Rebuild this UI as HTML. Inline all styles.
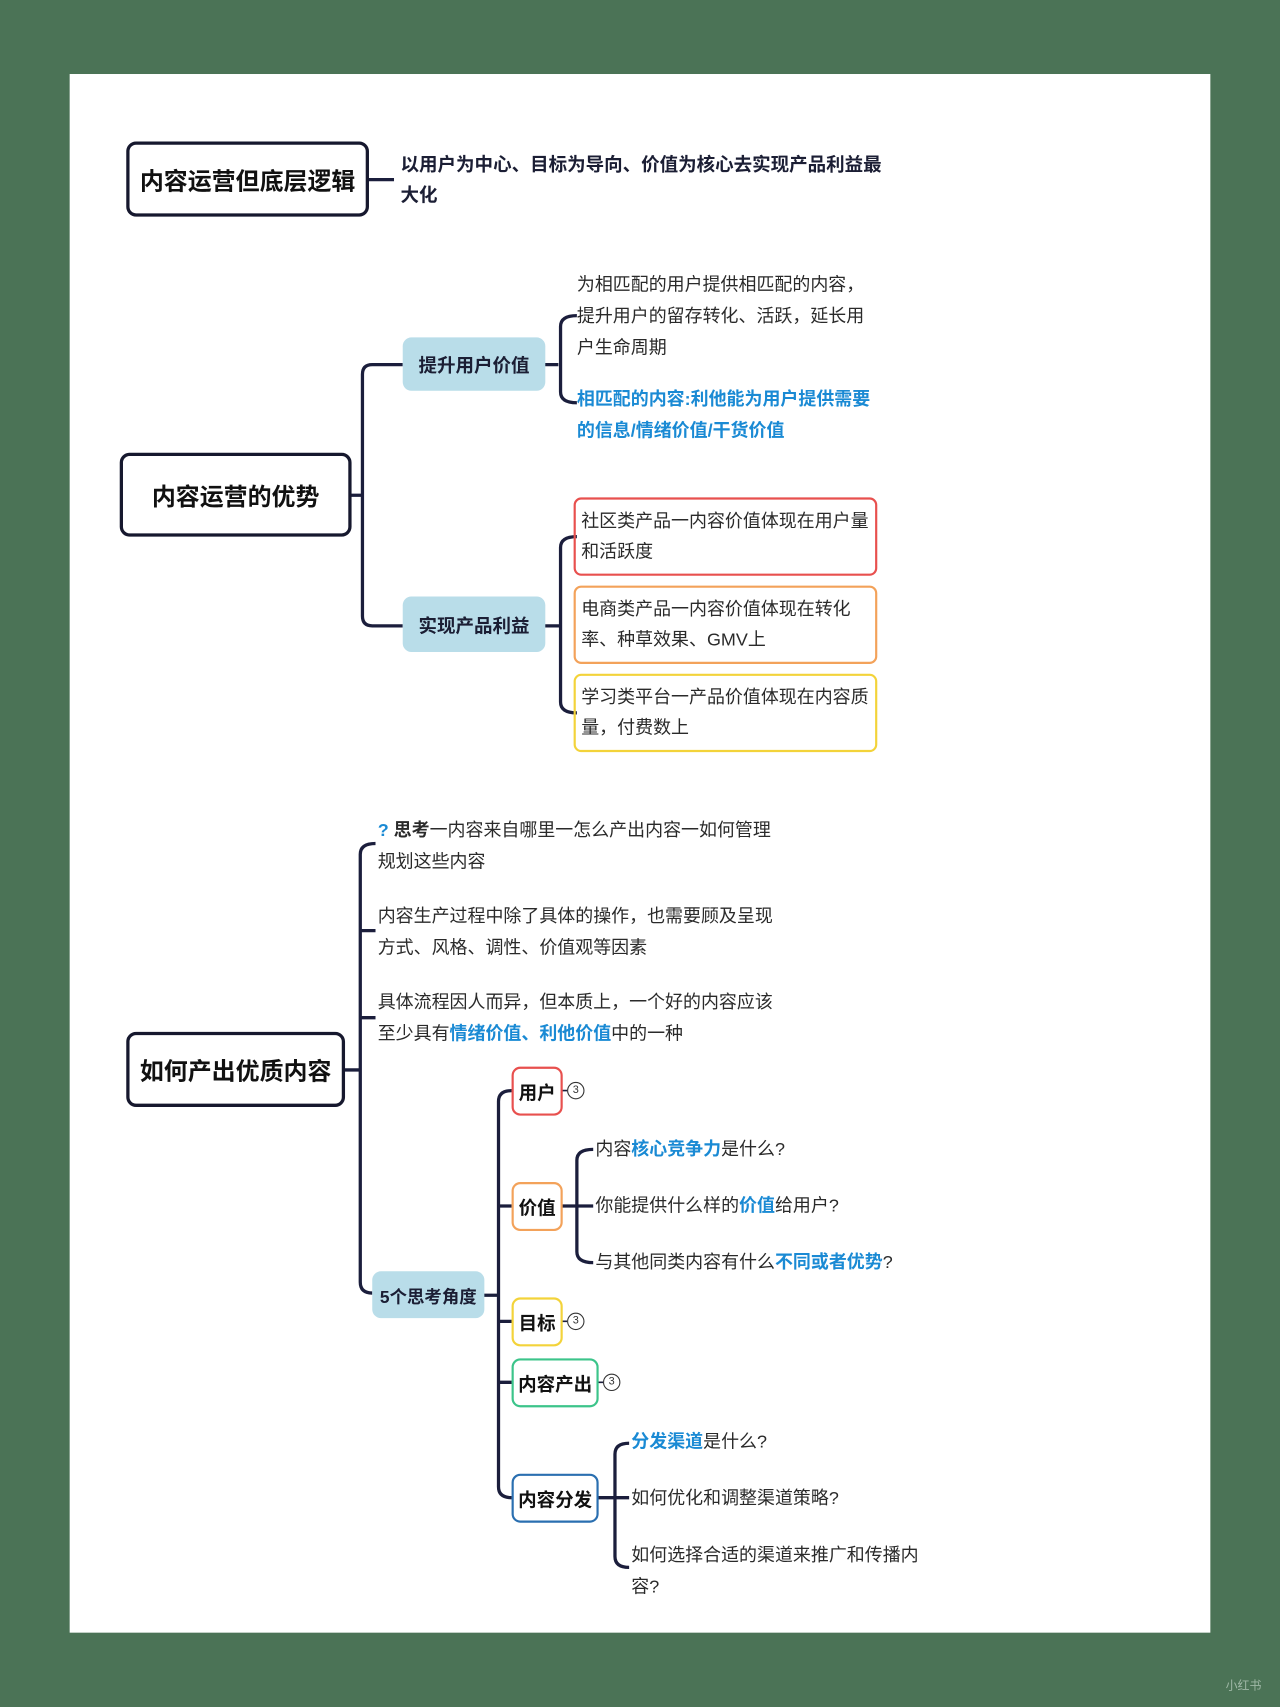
<!DOCTYPE html>
<html><head><meta charset="utf-8"><style>
html,body{margin:0;padding:0;width:1280px;height:1706px;overflow:hidden;background:#4b7356;}
#s{position:absolute;left:0;top:0;width:1176px;height:1568px;transform:scale(1.08844);transform-origin:0 0;font-family:"Liberation Sans","Noto Sans CJK SC",sans-serif;color:#222;}
.p{position:absolute;left:64px;top:68px;width:1048px;height:1432px;background:#fff;}
.a{position:absolute;}
.main{position:absolute;border:3px solid #16182e;border-radius:9px;box-sizing:border-box;display:flex;align-items:center;justify-content:center;font-weight:bold;font-size:22px;color:#111;white-space:nowrap;}
.lb{position:absolute;background:#b9dde9;border-radius:8px;display:flex;align-items:center;justify-content:center;font-weight:bold;font-size:17px;color:#1b1e34;white-space:nowrap;}
.t{position:absolute;font-size:16.5px;line-height:29px;color:#2a2a2a;white-space:nowrap;}
.bx{position:absolute;border:2.5px solid;border-radius:7px;box-sizing:border-box;padding:6px 5px;font-size:16.5px;line-height:28px;color:#2a2a2a;white-space:nowrap;}
.n{position:absolute;border:2.5px solid;border-radius:8px;box-sizing:border-box;display:flex;align-items:center;justify-content:center;font-weight:bold;font-size:17px;color:#111;white-space:nowrap;}
.c{position:absolute;width:14px;height:14px;border:1px solid #333;border-radius:50%;font-size:10px;line-height:14px;text-align:center;color:#333;}
.bl{color:#1a8ad4;font-weight:bold;}
</style></head><body><div id="s">
<div class="p"></div>
<svg class="a" style="left:0;top:0" width="1176" height="1568" fill="none" stroke="#1b1e3c" stroke-width="3">
<path d="M338 165 H362"/>
<path d="M322 455 H333 M370 335 H342 Q333 335 333 344 V566 Q333 575 342 575 H370"/>
<path d="M500 335 H513 M530 290 Q515 290 515 300 V360 Q515 370 530 370"/>
<path d="M500 575 H515 M530 493 Q515 493 515 503 V645 Q515 655 530 655"/>
<path d="M316 983 H330 M345 775 Q331 775 331 785 V1178 Q331 1188 342 1188 M331 855 H345 M331 935 H345"/>
<path d="M444 1190 H458 M470 1002 Q458 1002 458 1012 V1366 Q458 1376 470 1376 M458 1108 H470 M458 1214 H470 M458 1270 H470"/>
<path d="M516 1108 H530 M545 1056 Q530 1056 530 1066 V1150 Q530 1160 545 1160 M530 1108 H545"/>
<path d="M549 1376 H565 M578 1326 Q565 1326 565 1336 V1430 Q565 1440 578 1440 M565 1376 H578"/>
<path d="M516 1002 H521 M516 1214 H521 M549 1270 H554" stroke-width="1.5"/>
</svg>
<div class="main" style="left:116px;top:130px;width:223px;height:69px;">内容运营但底层逻辑</div>
<div class="t" style="left:368px;top:138px;font-weight:bold;font-size:17px;line-height:28px;color:#1b1e34;">以用户为中心、目标为导向、价值为核心去实现产品利益最<br>大化</div>
<div class="main" style="left:110px;top:416px;width:213px;height:77px;">内容运营的优势</div>
<div class="lb" style="left:370px;top:310px;width:131px;height:49px;">提升用户价值</div>
<div class="t" style="left:530px;top:248px;">为相匹配的用户提供相匹配的内容，<br>提升用户的留存转化、活跃，延长用<br>户生命周期</div>
<div class="t bl" style="left:530px;top:353px;">相匹配的内容:利他能为用户提供需要<br>的信息/情绪价值/干货价值</div>
<div class="lb" style="left:370px;top:548px;width:131px;height:51px;">实现产品利益</div>
<div class="bx" style="left:527px;top:457px;width:279px;height:72px;border-color:#e8504e;">社区类产品一内容价值体现在用户量<br>和活跃度</div>
<div class="bx" style="left:527px;top:538px;width:279px;height:72px;border-color:#f3a25a;">电商类产品一内容价值体现在转化<br>率、种草效果、GMV上</div>
<div class="bx" style="left:527px;top:619px;width:279px;height:72px;border-color:#f3d33a;">学习类平台一产品价值体现在内容质<br>量，付费数上</div>
<div class="main" style="left:116px;top:948px;width:201px;height:69px;">如何产出优质内容</div>
<div class="t" style="left:347px;top:749px;"><span class="bl">?</span> <b>思考</b>一内容来自哪里一怎么产出内容一如何管理<br>规划这些内容</div>
<div class="t" style="left:347px;top:828px;">内容生产过程中除了具体的操作，也需要顾及呈现<br>方式、风格、调性、价值观等因素</div>
<div class="t" style="left:347px;top:907px;">具体流程因人而异，但本质上，一个好的内容应该<br>至少具有<span class="bl">情绪价值、利他价值</span>中的一种</div>
<div class="lb" style="left:342px;top:1168px;width:103px;height:43px;font-size:16px;">5个思考角度</div>
<div class="n" style="left:470px;top:980px;width:47px;height:45px;border-color:#e8504e;">用户</div>
<div class="c" style="left:521px;top:994px;">3</div>
<div class="n" style="left:470px;top:1086px;width:47px;height:45px;border-color:#f3a25a;">价值</div>
<div class="t" style="left:547px;top:1042px;">内容<span class="bl">核心竞争力</span>是什么?</div>
<div class="t" style="left:547px;top:1094px;">你能提供什么样的<span class="bl">价值</span>给用户?</div>
<div class="t" style="left:547px;top:1146px;">与其他同类内容有什么<span class="bl">不同或者优势</span>?</div>
<div class="n" style="left:470px;top:1192px;width:47px;height:45px;border-color:#f3d33a;">目标</div>
<div class="c" style="left:521px;top:1206px;">3</div>
<div class="n" style="left:470px;top:1248px;width:80px;height:45px;border-color:#3cc48a;">内容产出</div>
<div class="c" style="left:554px;top:1262px;">3</div>
<div class="n" style="left:470px;top:1354px;width:80px;height:45px;border-color:#2a6fb0;">内容分发</div>
<div class="t" style="left:580px;top:1311px;"><span class="bl">分发渠道</span>是什么?</div>
<div class="t" style="left:580px;top:1363px;">如何优化和调整渠道策略?</div>
<div class="t" style="left:580px;top:1415px;">如何选择合适的渠道来推广和传播内<br>容?</div>
<div class="a" style="left:1126px;top:1540px;font-size:11px;color:#9fb8a6;">小红书</div>
</div></body></html>
